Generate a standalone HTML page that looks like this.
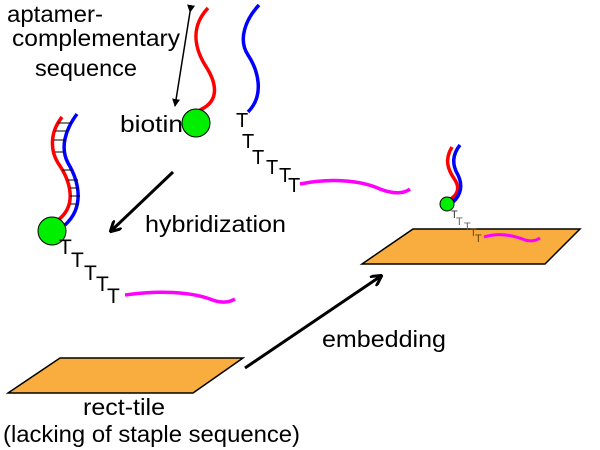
<!DOCTYPE html><html><head><style>body{margin:0;background:#fff}svg{display:block}text{font-family:"Liberation Sans",sans-serif;fill:#000}</style></head><body>
<svg width="600" height="450" viewBox="0 0 600 450" xmlns="http://www.w3.org/2000/svg">
<defs><marker id="ah" markerWidth="8" markerHeight="8" refX="7" refY="4" orient="auto" markerUnits="userSpaceOnUse"><path d="M0,0 L8,4 L0,8 z" fill="#000"/></marker>
<marker id="ab" markerWidth="12" markerHeight="12" refX="10" refY="6" orient="auto" markerUnits="userSpaceOnUse"><path d="M0,0 L11,6 L0,12" fill="none" stroke="#000" stroke-width="3"/></marker></defs>
<g font-size="23">
<text x="7" y="22" textLength="96" lengthAdjust="spacingAndGlyphs">aptamer-</text>
<text x="12" y="46" textLength="168" lengthAdjust="spacingAndGlyphs">complementary</text>
<text x="35" y="76" textLength="102" lengthAdjust="spacingAndGlyphs">sequence</text>
<text x="120" y="132" textLength="63" lengthAdjust="spacingAndGlyphs">biotin</text>
<text x="145" y="232" textLength="141" lengthAdjust="spacingAndGlyphs">hybridization</text>
<text x="83" y="415" textLength="82" lengthAdjust="spacingAndGlyphs">rect-tile</text>
<text x="3" y="442" textLength="297" lengthAdjust="spacingAndGlyphs">(lacking of staple sequence)</text>
<text x="322" y="347" textLength="124" lengthAdjust="spacingAndGlyphs">embedding</text>
</g>
<line x1="190" y1="12" x2="175" y2="106" stroke="#000" stroke-width="1.5" marker-end="url(#ah)" marker-start="url(#ah)"/>
<path d="M208,8 C192,25 193,45 205,65 C215,80 222,100 200,110" stroke="#f00" stroke-width="3.5" fill="none"/>
<path d="M259,5 C245,20 238,40 248,55 C258,70 265,95 248,112" stroke="#00f" stroke-width="3.5" fill="none"/>
<circle cx="196" cy="123" r="14" fill="#0e0" stroke="#000" stroke-width="1"/>
<g font-size="20"><text x="236" y="127">T</text><text x="242" y="148">T</text><text x="252" y="164">T</text><text x="266" y="174">T</text><text x="279" y="182">T</text><text x="288" y="192">T</text></g>
<path d="M300,184 C330,178 360,180 380,189 C395,195 405,193 410,189" stroke="#f0f" stroke-width="3.5" fill="none"/>
<path d="M62,117 C50,132 50,150 58,163 C70,180 78,205 58,220" stroke="#f00" stroke-width="3.5" fill="none"/>
<path d="M77,114 C65,130 60,148 68,163 C80,183 84,208 65,225" stroke="#00f" stroke-width="3.5" fill="none"/>
<g stroke="#000" stroke-width="1"><line x1="58" y1="123" x2="72" y2="123"/><line x1="55" y1="131" x2="68" y2="131"/><line x1="54" y1="140" x2="65" y2="140"/><line x1="55" y1="152" x2="64" y2="152"/><line x1="62" y1="170" x2="72" y2="170"/><line x1="68" y1="180" x2="78" y2="180"/><line x1="70" y1="188" x2="79" y2="188"/><line x1="70" y1="196" x2="80" y2="196"/><line x1="70" y1="204" x2="79" y2="204"/></g>
<circle cx="52" cy="231" r="14" fill="#0e0" stroke="#000" stroke-width="1"/>
<g font-size="21"><text x="59" y="254">T</text><text x="71" y="267">T</text><text x="84" y="280">T</text><text x="96" y="291">T</text><text x="107" y="303">T</text></g>
<path d="M125,295 C160,290 190,292 210,299 C222,304 230,302 235,299" stroke="#f0f" stroke-width="3.5" fill="none"/>
<line x1="173" y1="172" x2="111" y2="231" stroke="#000" stroke-width="3" marker-end="url(#ab)"/>
<polygon points="8,393 60,358 243,358 193,393" fill="#f9ad3f" stroke="#000" stroke-width="1.5"/>
<line x1="245" y1="368" x2="381" y2="276" stroke="#000" stroke-width="3" marker-end="url(#ab)"/>
<polygon points="413,229 580,229 545,264 362,264" fill="#f9ad3f" stroke="#000" stroke-width="1.5"/>
<path d="M452,147 C444,160 448,170 455,180 C460,188 458,195 449,200" stroke="#f00" stroke-width="3.5" fill="none"/>
<path d="M460,145 C452,155 452,165 458,175 C463,185 461,195 453,202" stroke="#00f" stroke-width="3.5" fill="none"/>
<circle cx="447" cy="204" r="7" fill="#0e0" stroke="#000" stroke-width="1"/>
<g font-size="11"><text x="451" y="218" style="fill:#333">T</text><text x="456" y="225" style="fill:#666">T</text><text x="464" y="230" style="fill:#666">T</text><text x="470" y="236" style="fill:#664400">T</text><text x="475" y="242" style="fill:#664400">T</text></g>
<path d="M484,237 C500,232 515,236 525,240 C532,242 537,240 540,238" stroke="#f0f" stroke-width="3" fill="none"/>
</svg></body></html>
